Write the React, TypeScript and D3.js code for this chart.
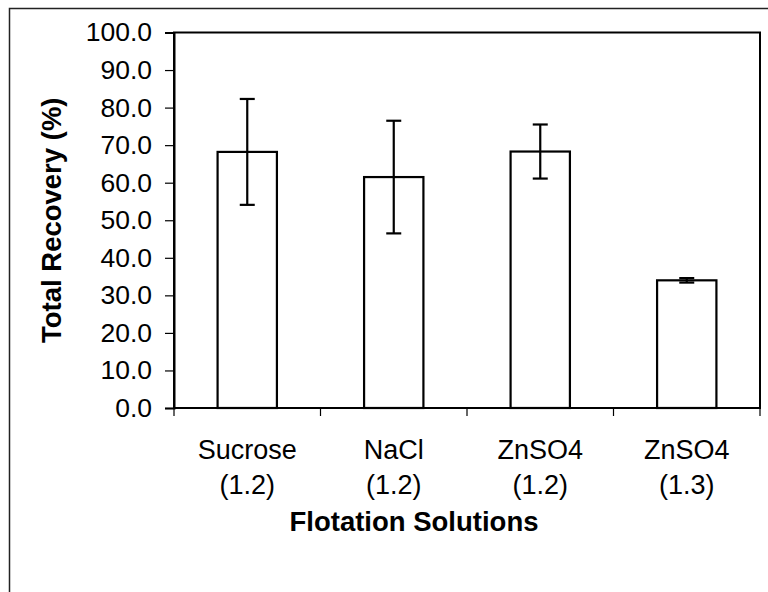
import React, { useRef, useEffect } from 'react';
import * as d3 from 'd3';

// data
const solutions = ['Sucrose', 'NaCl', 'ZnSO4', 'ZnSO4'];
const gravities = ['(1.2)', '(1.2)', '(1.2)', '(1.3)'];
const recovery = [68.2, 61.5, 68.3, 34.0];
const recoveryErr = [14.1, 15.0, 7.2, 0.6];
const yTicks = [0, 10, 20, 30, 40, 50, 60, 70, 80, 90, 100];

const FONT = '"Liberation Sans", Arial, sans-serif';

const App = () => {
    const svgRef = useRef<SVGSVGElement>(null);

    useEffect(() => {
        const w = 768;
        const h = 592;
        const left = 174;
        const right = 760;
        const top = 32.5;
        const bottom = 408;

        const svg = d3.select(svgRef.current);
        svg.selectAll('*').remove();

        // outer chart border (runs off the picture on right/bottom)
        svg.append('rect')
            .attr('x', 9.5).attr('y', 8.5)
            .attr('width', 820).attr('height', 640)
            .attr('fill', 'white')
            .attr('stroke', '#222').attr('stroke-width', 1.5);

        const idx = solutions.map((d, i) => i);

        // slots for ticks / labels, narrower band for bars
        const slot = d3.scaleBand<number>().domain(idx).range([left, right]);
        const x = d3.scaleBand<number>()
            .domain(idx)
            .range([left, right])
            .paddingInner(0.595)
            .paddingOuter(0.2975);

        const y = d3.scaleLinear().domain([0, 100]).range([bottom, top]);

        // plot area frame
        svg.append('rect')
            .attr('x', left).attr('y', top)
            .attr('width', right - left).attr('height', bottom - top)
            .attr('fill', 'none')
            .attr('stroke', 'black').attr('stroke-width', 2);

        // y axis
        const yAxis = d3.axisLeft(y)
            .tickValues(yTicks)
            .tickFormat(d3.format('.1f'))
            .tickSize(9)
            .tickPadding(13);

        const gy = svg.append('g')
            .attr('transform', `translate(${left}, 0)`)
            .call(yAxis);
        gy.select('.domain').attr('stroke-width', 2);
        gy.selectAll('.tick line').attr('stroke-width', 1.2);
        gy.selectAll('.tick text')
            .attr('font-family', FONT)
            .attr('font-size', 26.5)
            .attr('fill', 'black');

        // x axis ticks on category boundaries
        const bounds = idx.map(i => slot(i)!).concat([right]);
        svg.append('g')
            .selectAll('line')
            .data(bounds)
            .join('line')
            .attr('x1', d => d).attr('x2', d => d)
            .attr('y1', bottom).attr('y2', bottom + 8)
            .attr('stroke', 'black').attr('stroke-width', 1.2);

        // bars
        svg.append('g')
            .selectAll('rect')
            .data(recovery)
            .join('rect')
            .attr('x', (v, i) => x(i)!)
            .attr('y', v => y(v))
            .attr('width', x.bandwidth())
            .attr('height', v => bottom - y(v))
            .attr('fill', 'white')
            .attr('stroke', 'black')
            .attr('stroke-width', 2.2);

        // error bars
        const cap = 7.5;
        const eb = svg.append('g')
            .selectAll('g')
            .data(recovery)
            .join('g')
            .attr('transform', (v, i) => `translate(${x(i)! + x.bandwidth() / 2}, 0)`);
        eb.append('line')
            .attr('y1', (v, i) => y(v + recoveryErr[i]))
            .attr('y2', (v, i) => y(v - recoveryErr[i]))
            .attr('stroke', 'black').attr('stroke-width', 2.2);
        eb.append('line')
            .attr('x1', -cap).attr('x2', cap)
            .attr('y1', (v, i) => y(v + recoveryErr[i]))
            .attr('y2', (v, i) => y(v + recoveryErr[i]))
            .attr('stroke', 'black').attr('stroke-width', 2.2);
        eb.append('line')
            .attr('x1', -cap).attr('x2', cap)
            .attr('y1', (v, i) => y(v - recoveryErr[i]))
            .attr('y2', (v, i) => y(v - recoveryErr[i]))
            .attr('stroke', 'black').attr('stroke-width', 2.2);

        // category labels, two lines
        const labels = svg.append('g')
            .selectAll('text')
            .data(solutions)
            .join('text')
            .attr('text-anchor', 'middle')
            .attr('font-family', FONT)
            .attr('font-size', 27)
            .attr('fill', 'black');
        labels.append('tspan')
            .attr('x', (d, i) => slot(i)! + slot.bandwidth() / 2)
            .attr('y', 459)
            .text(d => d);
        labels.append('tspan')
            .attr('x', (d, i) => slot(i)! + slot.bandwidth() / 2)
            .attr('y', 494)
            .text((d, i) => gravities[i]);

        // axis titles
        svg.append('text')
            .attr('x', 414).attr('y', 531)
            .attr('text-anchor', 'middle')
            .attr('font-family', FONT)
            .attr('font-weight', 'bold')
            .attr('font-size', 27.5)
            .text('Flotation Solutions');

        svg.append('text')
            .attr('transform', `translate(61, ${(top + bottom) / 2}) rotate(-90)`)
            .attr('text-anchor', 'middle')
            .attr('font-family', FONT)
            .attr('font-weight', 'bold')
            .attr('font-size', 27.5)
            .text('Total Recovery (%)');

        svg.attr('width', w).attr('height', h);
    }, []);

    return (
        <svg
            ref={svgRef}
            width={768}
            height={592}
            style={{ position: 'absolute', left: 0, top: 0, background: 'white' }}
        ></svg>
    );
};

export default App;
